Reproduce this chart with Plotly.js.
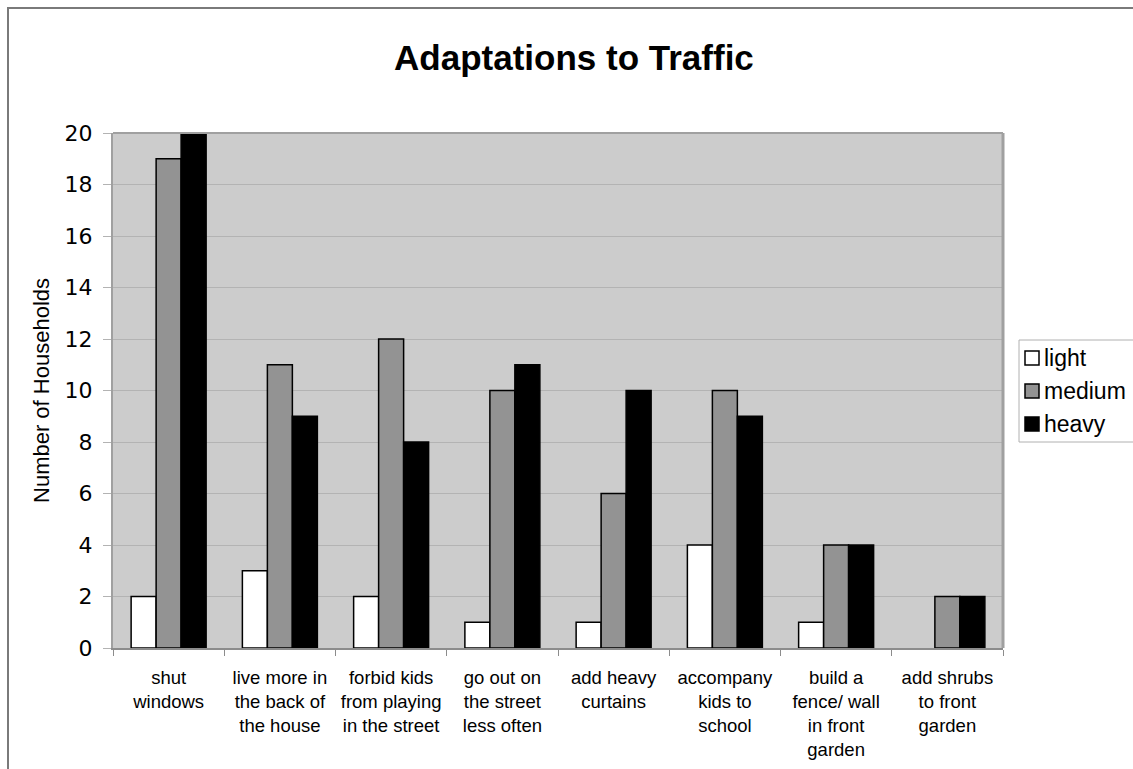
<!DOCTYPE html>
<html>
<head>
<meta charset="utf-8">
<script src="https://cdn.plot.ly/plotly-3.0.1.min.js"></script>
<style>
  html, body { margin: 0; padding: 0; background: #ffffff; }
  #wrap { position: relative; width: 1133px; height: 769px; overflow: hidden; }
  #chart { width: 1133px; height: 769px; }
  #frame { position: absolute; left: 7px; top: 7px; width: 1200px; height: 800px;
           border-left: 2px solid #7a7a7a; border-top: 2px solid #7a7a7a; pointer-events: none; }
</style>
</head>
<body>
<div id="wrap">
  <div id="chart"></div>
  <div id="frame"></div>
</div>
<script>
const categories = [
  "shut<br>windows",
  "live more in<br>the back of<br>the house",
  "forbid kids<br>from playing<br>in the street",
  "go out on<br>the street<br>less often",
  "add heavy<br>curtains",
  "accompany<br>kids to<br>school",
  "build a<br>fence/ wall<br>in front<br>garden",
  "add shrubs<br>to front<br>garden"
];
const seriesNames  = ["light", "medium", "heavy"];
const lightValues  = [2, 3, 2, 1, 1, 4, 1, null];
const mediumValues = [19, 11, 12, 10, 6, 10, 4, 2];
const heavyValues  = [20, 9, 8, 11, 10, 9, 4, 2];
const yTicks = [0, 2, 4, 6, 8, 10, 12, 14, 16, 18, 20];

const seriesColors = ["#ffffff", "#939393", "#000000"];
const seriesValues = [lightValues, mediumValues, heavyValues];

const W = 1133, H = 769;
const M = { l: 113, r: 130, t: 133, b: 121 };
const plotW = W - M.l - M.r, plotH = H - M.t - M.b;
const px2x = p => (p - M.l) / plotW;
const px2y = p => (H - M.b - p) / plotH;

const barLine = { color: "#000000", width: 1.5 };
const traces = seriesNames.map((name, i) => ({
  type: "bar", name: name, x: categories, y: seriesValues[i],
  marker: { color: seriesColors[i], line: barLine }, showlegend: false
}));

// manual legend (box, swatches, labels) placed like the reference
const legendRows = [358, 391, 424];
const shapes = [
  { type: "line", xref: "paper", yref: "paper", x0: 1, x1: 1, y0: 0, y1: 1,
    line: { color: "#a0a0a0", width: 3 } },
  { type: "line", xref: "paper", yref: "paper", x0: 0, x1: 1, y0: 1, y1: 1,
    line: { color: "#a0a0a0", width: 2 } },
  { type: "rect", xref: "paper", yref: "paper",
    x0: px2x(1019), x1: px2x(1145), y0: px2y(442), y1: px2y(340),
    fillcolor: "#ffffff", line: { color: "#b0b0b0", width: 1 } }
];
const annotations = [];
seriesNames.forEach((name, i) => {
  const cy = legendRows[i];
  shapes.push({ type: "rect", xref: "paper", yref: "paper",
    x0: px2x(1025), x1: px2x(1039), y0: px2y(cy + 7), y1: px2y(cy - 7),
    fillcolor: seriesColors[i], line: { color: "#000000", width: 1.5 } });
  annotations.push({ xref: "paper", yref: "paper", x: px2x(1042), y: px2y(cy),
    xanchor: "left", yanchor: "middle", showarrow: false, text: name,
    font: { family: "Liberation Sans, Arial, sans-serif", size: 23, color: "#000000" } });
});

const layout = {
  width: W, height: H,
  margin: { l: M.l, r: M.r, t: M.t, b: M.b, autoexpand: false },
  paper_bgcolor: "#ffffff",
  plot_bgcolor: "#cccccc",
  barmode: "group",
  bargap: 0.326,
  bargroupgap: 0,
  showlegend: false,
  font: { family: "Liberation Sans, Arial, sans-serif", color: "#000000" },
  title: {
    text: "<b>Adaptations to Traffic</b>",
    font: { family: "Liberation Sans, Arial, sans-serif", size: 35, color: "#000000" },
    xref: "container", x: 0.5066, xanchor: "center",
    yref: "container", y: 0.9246, yanchor: "middle"
  },
  xaxis: {
    type: "category",
    showgrid: false,
    showline: true, linecolor: "#8c8c8c", linewidth: 1.5,
    ticks: "outside", tickson: "boundaries", ticklen: 6, tickcolor: "#8c8c8c", tickwidth: 1,
    ticklabelstandoff: 12,
    tickangle: 0,
    automargin: false,
    tickfont: { family: "Liberation Sans, Arial, sans-serif", size: 18.5, color: "#000000" }
  },
  yaxis: {
    range: [0, 20],
    tickvals: yTicks,
    ticktext: yTicks.map(String),
    showgrid: true, gridcolor: "#b3b3b3", gridwidth: 1,
    zeroline: false,
    showline: true, linecolor: "#a0a0a0", linewidth: 2,
    ticks: "outside", ticklen: 8, tickcolor: "#b3b3b3", tickwidth: 1,
    ticklabelstandoff: 6,
    automargin: false,
    tickfont: { family: "DejaVu Sans, Verdana, sans-serif", size: 22, color: "#000000" },
    title: {
      text: "Number of Households",
      font: { family: "Liberation Sans, Arial, sans-serif", size: 22, color: "#000000" },
      standoff: 9
    }
  },
  shapes: shapes,
  annotations: annotations
};

Plotly.newPlot("chart", traces, layout, { displayModeBar: false, staticPlot: true });
</script>
</body>
</html>
